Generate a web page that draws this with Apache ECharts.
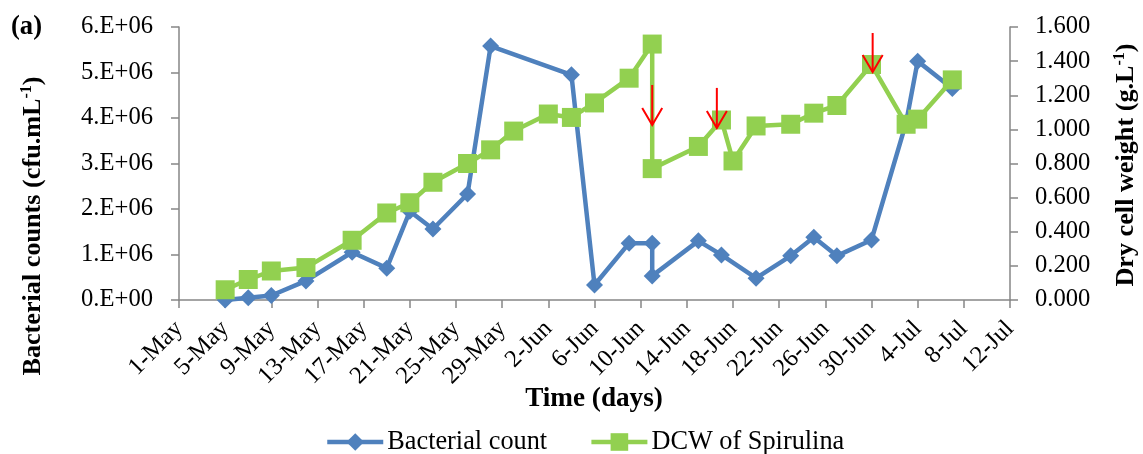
<!DOCTYPE html>
<html>
<head>
<meta charset="utf-8">
<script src="https://cdn.jsdelivr.net/npm/echarts@6/dist/echarts.min.js"></script>
<style>
  html, body { margin: 0; padding: 0; background: #fff; }
  #chart { width: 1143px; height: 454px; }
</style>
</head>
<body>
<div id="chart"></div>
<script>
// Tick labels of the time axis, one every 4 days from 1-May
const xTickLabels = ['1-May', '5-May', '9-May', '13-May', '17-May', '21-May', '25-May',
  '29-May', '2-Jun', '6-Jun', '10-Jun', '14-Jun', '18-Jun', '22-Jun', '26-Jun', '30-Jun',
  '4-Jul', '8-Jul', '12-Jul'];

// Bacterial count (cfu/mL)
const countDates = ['5-May', '7-May', '9-May', '12-May', '16-May', '19-May', '21-May',
  '23-May', '26-May', '28-May', '4-Jun', '6-Jun', '9-Jun', '11-Jun', '11-Jun', '15-Jun',
  '17-Jun', '20-Jun', '23-Jun', '25-Jun', '27-Jun', '30-Jun', '3-Jul', '4-Jul', '7-Jul'];
const countValues = [0, 0.05e6, 0.1e6, 0.42e6, 1.05e6, 0.7e6, 1.95e6,
  1.56e6, 2.33e6, 5.58e6, 4.95e6, 0.33e6, 1.25e6, 1.25e6, 0.53e6, 1.3e6,
  0.99e6, 0.48e6, 0.97e6, 1.38e6, 0.97e6, 1.32e6, 3.9e6, 5.25e6, 4.65e6];

// Dry cell weight of Spirulina (g/L)
const dcwDates = ['5-May', '7-May', '9-May', '12-May', '16-May', '19-May', '21-May',
  '23-May', '26-May', '28-May', '30-May', '2-Jun', '4-Jun', '6-Jun', '9-Jun', '11-Jun',
  '11-Jun', '15-Jun', '17-Jun', '18-Jun', '20-Jun', '23-Jun', '25-Jun', '27-Jun', '30-Jun',
  '3-Jul', '4-Jul', '7-Jul'];
const dcwValues = [0.06, 0.12, 0.17, 0.19, 0.35, 0.51, 0.57,
  0.69, 0.80, 0.88, 0.99, 1.09, 1.07, 1.155, 1.30, 1.50,
  0.77, 0.90, 1.055, 0.815, 1.02, 1.03, 1.095, 1.14, 1.38,
  1.03, 1.06, 1.29];

// Harvest markers (red arrows), in days from 1-May and dry-cell-weight units
const arrowDays = [41, 46.6, 60.1];
const arrowTops = [1.26, 1.243, 1.565];
const arrowTips = [1.026, 1.008, 1.336];

// Days elapsed since 1-May
function dayOffset(label) {
  const [d, m] = label.split('-');
  const base = { May: -1, Jun: 30, Jul: 60 }[m];
  return base + Number(d);
}

const FONT = '"Liberation Serif", "Times New Roman", serif';
const AXIS_GREY = '#868686';

// Font size at which a sample string spans roughly the wanted width
const measureCtx = document.createElement('canvas').getContext('2d');
function fitSize(sample, width, weight) {
  measureCtx.font = (weight || 'normal') + ' 100px ' + FONT;
  return Math.round(100 * width / measureCtx.measureText(sample).width * 10) / 10;
}
const tickSize = fitSize('0.E+00', 72);
const legendSize = fitSize('Bacterial count', 160);
const xTitleSize = fitSize('Time (days)', 138, 'bold');
const yTitleSize = fitSize('Dry cell weight (g.L)', 230, 'bold');
const tagSize = fitSize('(a)', 31, 'bold');

const countData = countDates.map((d, i) => [dayOffset(d), countValues[i]]);
const dcwData = dcwDates.map((d, i) => [dayOffset(d), dcwValues[i]]);
const arrowData = arrowDays.map((d, i) => [d, arrowTops[i], arrowTips[i]]);

const chart = echarts.init(document.getElementById('chart'), null, { renderer: 'canvas' });

const tickLabelStyle = { color: '#000', fontFamily: FONT, fontSize: tickSize };
const titleRich = {
  t: { fontFamily: FONT, fontWeight: 'bold', fontSize: yTitleSize, color: '#000' },
  s: { fontFamily: FONT, fontWeight: 'bold', fontSize: Math.round(yTitleSize * 0.6), color: '#000', padding: [0, 0, 12, 0] }
};

chart.setOption({
  animation: false,
  backgroundColor: '#ffffff',
  grid: { left: 179, right: 133, top: 27, bottom: 154, containLabel: false },
  xAxis: {
    type: 'value',
    min: 0,
    max: 72,
    interval: 4,
    splitLine: { show: false },
    axisLine: { lineStyle: { color: AXIS_GREY, width: 1.5 } },
    axisTick: { show: true, length: 8, lineStyle: { color: AXIS_GREY, width: 1.5 } },
    axisLabel: Object.assign({
      rotate: 45,
      margin: 25,
      formatter: v => xTickLabels[Math.round(v / 4)]
    }, tickLabelStyle)
  },
  yAxis: [
    {
      type: 'value',
      min: 0,
      max: 6e6,
      interval: 1e6,
      splitLine: { show: false },
      axisLine: { show: true, lineStyle: { color: AXIS_GREY, width: 1.5 } },
      axisTick: { show: true, length: 8, lineStyle: { color: AXIS_GREY, width: 1.5 } },
      axisLabel: Object.assign({
        margin: 26,
        formatter: v => v === 0 ? '0.E+00' : (v / 1e6) + '.E+06'
      }, tickLabelStyle)
    },
    {
      type: 'value',
      position: 'right',
      min: 0,
      max: 1.6,
      interval: 0.2,
      splitLine: { show: false },
      axisLine: { show: true, lineStyle: { color: AXIS_GREY, width: 1.5 } },
      axisTick: { show: true, length: 8, lineStyle: { color: AXIS_GREY, width: 1.5 } },
      axisLabel: Object.assign({
        margin: 25,
        formatter: v => v.toFixed(3)
      }, tickLabelStyle)
    }
  ],
  legend: {
    left: 320,
    top: 424,
    itemWidth: 56,
    itemHeight: 22,
    itemGap: 42,
    lineStyle: { width: 4.5 },
    textStyle: { fontFamily: FONT, fontSize: legendSize, color: '#000', padding: [0, 0, 0, -1] },
    data: ['Bacterial count', 'DCW of Spirulina']
  },
  graphic: [
    {
      type: 'text',
      left: 11,
      top: 14,
      style: { text: '(a)', font: 'bold ' + tagSize + 'px ' + FONT, fill: '#000' }
    },
    {
      type: 'text',
      x: 33,
      y: 226,
      rotation: Math.PI / 2,
      style: {
        text: '{t|Bacterial counts (cfu.mL}{s|-1}{t|)}',
        align: 'center',
        verticalAlign: 'middle',
        rich: titleRich
      }
    },
    {
      type: 'text',
      x: 1126,
      y: 165,
      rotation: Math.PI / 2,
      style: {
        text: '{t|Dry cell weight (g.L}{s|-1}{t|)}',
        align: 'center',
        verticalAlign: 'middle',
        rich: titleRich
      }
    },
    {
      type: 'text',
      x: 594,
      y: 399,
      style: {
        text: 'Time (days)',
        align: 'center',
        verticalAlign: 'middle',
        font: 'bold ' + xTitleSize + 'px ' + FONT,
        fill: '#000'
      }
    }
  ],
  series: [
    {
      name: 'Bacterial count',
      type: 'line',
      yAxisIndex: 0,
      data: countData,
      symbol: 'diamond',
      symbolSize: 17,
      itemStyle: { color: '#4F81BD' },
      lineStyle: { color: '#4F81BD', width: 4.5 },
      z: 2
    },
    {
      name: 'DCW of Spirulina',
      type: 'line',
      yAxisIndex: 1,
      data: dcwData,
      symbol: 'rect',
      symbolSize: 19,
      itemStyle: { color: '#92D050' },
      lineStyle: { color: '#92D050', width: 4.5 },
      z: 3
    },
    {
      name: 'harvest',
      type: 'custom',
      yAxisIndex: 1,
      data: arrowData,
      z: 5,
      silent: true,
      renderItem: (params, api) => {
        const top = api.coord([api.value(0), api.value(1)]);
        const tip = api.coord([api.value(0), api.value(2)]);
        const style = { stroke: '#FF0000', lineWidth: 2, fill: null };
        return {
          type: 'group',
          children: [
            { type: 'line', shape: { x1: top[0], y1: top[1], x2: tip[0], y2: tip[1] }, style },
            {
              type: 'polyline',
              shape: { points: [[tip[0] - 10, tip[1] - 17], [tip[0], tip[1]], [tip[0] + 10, tip[1] - 17]] },
              style
            }
          ]
        };
      }
    }
  ]
});
</script>
</body>
</html>
